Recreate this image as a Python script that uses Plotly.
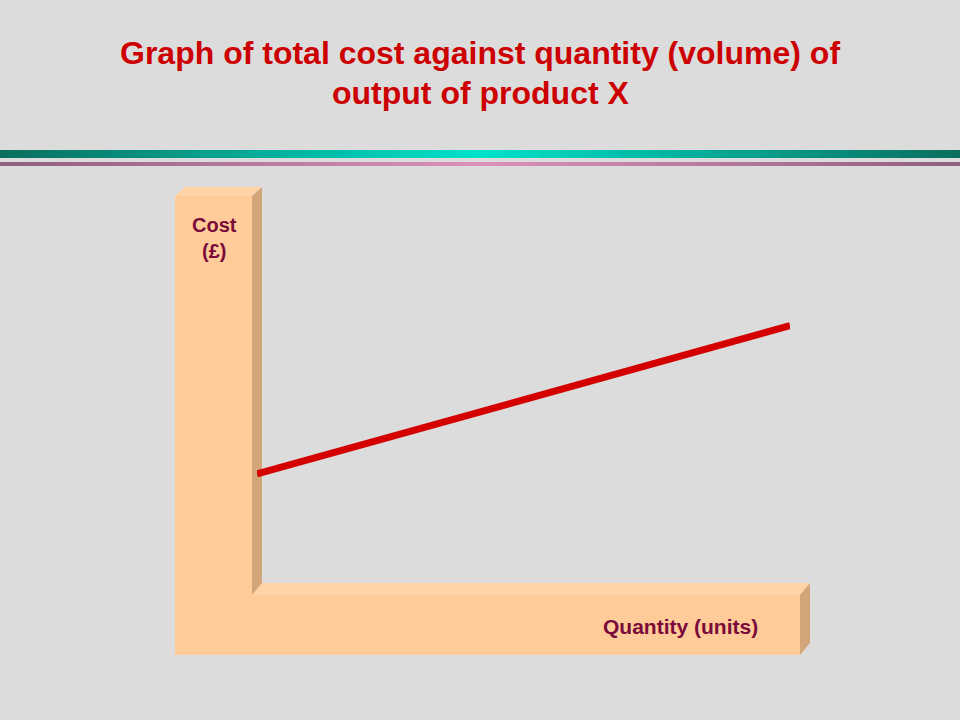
import plotly.graph_objects as go

# ---- data ----
quantity = [0, 100]          # units
total_cost = [50, 114]       # £ (fixed cost + variable cost)
title_lines = ["Graph of total cost against quantity (volume) of", "output of product X"]
y_label = "Cost<br>(£)"
x_label = "Quantity (units)"

W, H = 960, 720
BG = "#DCDCDC"
PEACH = "#FFCC99"
PEACH_TOP = "#FFD3A6"
PEACH_SIDE = "#D2A679"
RED = "#D40000"
MAROON = "#7A0A3A"

def px(x):
    return x / W

def py(y):
    return 1 - y / H

def path(points):
    return "M " + " L ".join(f"{px(x)},{py(y)}" for x, y in points) + " Z"

shapes = []

def poly(points, color):
    shapes.append(dict(type="path", xref="paper", yref="paper", path=path(points),
                       fillcolor=color, line=dict(width=0), layer="below"))

def lerp(c1, c2, t):
    a = [int(c1[i:i + 2], 16) for i in (1, 3, 5)]
    b = [int(c2[i:i + 2], 16) for i in (1, 3, 5)]
    return "#" + "".join(f"{round(a[k] + (b[k] - a[k]) * t):02x}" for k in range(3))

# decorative gradient stripes
N = 96
for i in range(N):
    x0 = i * W / N
    x1 = (i + 1) * W / N + 0.6
    t = 1 - abs(((i + 0.5) / N) - 0.5) * 2
    poly([(x0, 150), (x1, 150), (x1, 158), (x0, 158)], lerp("#0A6E5E", "#00E2CA", t))
    poly([(x0, 162), (x1, 162), (x1, 166), (x0, 166)], lerp("#905E7E", "#DA92BA", t))

# horizontal 3D bar
poly([(175, 595), (800, 595), (810, 583), (185, 583)], PEACH_TOP)
poly([(800, 595), (810, 583), (810, 643), (800, 655)], PEACH_SIDE)
poly([(175, 595), (800, 595), (800, 655), (175, 655)], PEACH)

# vertical 3D bar
poly([(175, 196), (252, 196), (262, 187), (185, 187)], PEACH_TOP)
poly([(252, 196), (262, 187), (262, 583), (252, 595)], PEACH_SIDE)
poly([(175, 196), (252, 196), (252, 595), (175, 595)], PEACH)

fig = go.Figure()
fig.add_trace(go.Scatter(x=quantity, y=total_cost, mode="lines",
                         line=dict(color=RED, width=7), hoverinfo="skip", showlegend=False))

def ann(text, x, y, size, color):
    return dict(text="<b>" + text + "</b>", x=px(x), y=py(y), xref="paper", yref="paper",
                xanchor="center", yanchor="middle", showarrow=False,
                font=dict(family="Liberation Sans, Arial", size=size, color=color))

annotations = [
    ann(title_lines[0], 480, 53, 32, "#CC0000"),
    ann(title_lines[1], 480, 93, 32, "#CC0000"),
    ann(y_label, 214, 238, 20, MAROON),
    ann(x_label, 680, 626, 21, MAROON),
]

y0, y1 = 590, 590 - 130 * (116 / 50)
fig.update_layout(
    width=W, height=H, margin=dict(l=0, r=0, t=0, b=0),
    paper_bgcolor=BG, plot_bgcolor="rgba(0,0,0,0)",
    shapes=shapes, annotations=annotations,
    xaxis=dict(domain=[px(257), px(790)], range=[0, 100], visible=False, fixedrange=True),
    yaxis=dict(domain=[py(y0), py(y1)], range=[0, 130], visible=False, fixedrange=True),
    showlegend=False,
)
fig.write_html("out.html", config={"displayModeBar": False},
               post_script="document.body.style.margin='0';document.body.style.overflow='hidden';")
